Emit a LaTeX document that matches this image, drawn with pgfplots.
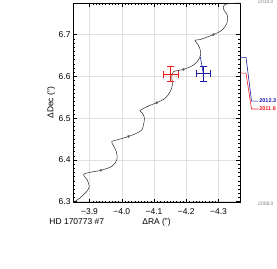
\documentclass[border=0pt]{standalone}
\usepackage{pgfplots}
\pgfplotsset{compat=1.18}
\usepackage{fontspec}
\setmainfont{Liberation Sans}
\definecolor{myblue}{rgb}{0.1,0.1,0.65}
\definecolor{myred}{rgb}{0.95,0.1,0.1}
\begin{document}
\begin{tikzpicture}
\begin{axis}[
  scale only axis, width=167bp, height=199.7bp,
  x dir=reverse,
  xmin=-4.3666, xmax=-3.8486, ymin=6.2976, ymax=6.7757,
  xtick={-3.9,-4.0,-4.1,-4.2,-4.3},
  xticklabels={−3.9,−4.0,−4.1,−4.2,−4.3},
  ytick={6.3,6.4,6.5,6.6,6.7},
  yticklabels={6.3,6.4,6.5,6.6,6.7},
  minor tick num=9,
  tick align=inside,
  major tick length=4bp, minor tick length=2bp,
  tick style={black, line width=0.4pt},
  grid=major, major grid style={gray!25, line width=0.5pt},
  axis line style={black, line width=0.5pt},
  ticklabel style={font=\fontsize{8.5}{10}\selectfont},
  xticklabel style={anchor=north, inner sep=0pt, yshift=-6bp},
  yticklabel style={anchor=east, inner sep=0pt, xshift=-2.3bp},
  xlabel={ΔRA (")}, ylabel={ΔDec (")},
  label style={font=\fontsize{8.5}{10}\selectfont},
  xlabel style={at={(axis description cs:0.5,-0.1077)}, anchor=base},
  ylabel style={at={(axis description cs:-0.1168,0.5)}, anchor=base},
  clip=false,
]
\addplot[black!85, line width=0.5pt, smooth, tension=0.5, mark=none] coordinates {
(-3.8486,6.2976) (-3.8712,6.3095) (-3.8920,6.3252) (-3.8990,6.3371) (-3.8920,6.3531) (-3.8814,6.3650) (-3.9022,6.3705) (-3.9353,6.3752) (-3.9694,6.3848) (-3.9848,6.4007) (-3.9827,6.4205) (-3.9724,6.4364) (-3.9694,6.4443) (-3.9950,6.4500) (-4.0207,6.4562) (-4.0468,6.4643) (-4.0622,6.4721) (-4.0672,6.4840) (-4.0703,6.5000) (-4.0641,6.5119) (-4.0570,6.5181) (-4.0827,6.5293) (-4.1087,6.5371) (-4.1344,6.5476) (-4.1499,6.5633) (-4.1570,6.5793) (-4.1551,6.5960) (-4.1600,6.6110) (-4.1910,6.6167) (-4.2220,6.6269) (-4.2406,6.6429) (-4.2449,6.6586) (-4.2375,6.6745) (-4.2272,6.6864) (-4.2427,6.6881) (-4.2839,6.7000) (-4.3099,6.7102) (-4.3254,6.7262) (-4.3272,6.7460) (-4.3149,6.7619) (-4.3201,6.7721) (-4.3511,6.7752) (-4.3666,6.7757)
};
\addplot[only marks, mark=*, mark size=1.2bp, gray!80!black, mark options={fill=gray!80!black}] coordinates {
(-3.9353,6.3752) (-4.0207,6.4562) (-4.1087,6.5371) (-4.1910,6.6167) (-4.2839,6.7000)
};
\addplot[myblue, line width=0.6pt, mark=none] coordinates {(-4.2436,6.6467) (-4.253,6.606)};
% red measurement (2011.8)
\addplot[myred, line width=0.9pt, mark=|, mark size=3.5bp, mark options={solid, line width=0.9pt}] coordinates {(-4.1297,6.605) (-4.1743,6.605)};
\addplot[myred, line width=0.9pt, mark=-, mark size=3.5bp, mark options={solid, line width=0.9pt}] coordinates {(-4.152,6.5871) (-4.152,6.6229)};
% blue measurement (2012.3)
\addplot[myblue, line width=0.9pt, mark=|, mark size=3.5bp, mark options={solid, line width=0.9pt}] coordinates {(-4.232,6.606) (-4.276,6.606)};
\addplot[myblue, line width=0.9pt, mark=-, mark size=3.5bp, mark options={solid, line width=0.9pt}] coordinates {(-4.254,6.5885) (-4.254,6.6235)};
\draw[myblue, line width=0.6pt] (axis description cs:1,0.728) -- (axis description cs:1.036,0.728) -- (axis description cs:1.069,0.509) -- (axis description cs:1.11,0.509);
\draw[myred, line width=0.6pt] (axis description cs:1,0.649) -- (axis description cs:1.036,0.649) -- (axis description cs:1.069,0.469) -- (axis description cs:1.11,0.469);
\node[anchor=west, inner sep=0.8bp, text=myblue, font=\fontsize{5.5}{6}\selectfont\bfseries] at (axis description cs:1.11,0.509) {2012.3};
\node[anchor=west, inner sep=0.8bp, text=myred, font=\fontsize{5.5}{6}\selectfont\bfseries] at (axis description cs:1.11,0.469) {2011.8};
\node[anchor=west, inner sep=0pt, text=gray, font=\fontsize{5}{6}\selectfont] at (axis description cs:1.108,1.006) {2014.0};
\node[anchor=west, inner sep=0pt, text=gray, font=\fontsize{5}{6}\selectfont] at (axis description cs:1.108,-0.0065) {2008.0};
\node[anchor=base west, inner sep=0pt, font=\fontsize{8.5}{10}\selectfont] at (axis description cs:-0.142,-0.1077) {HD 170773 \#7};
\end{axis}
\pgfresetboundingbox
\useasboundingbox (-73bp,-66.3bp) rectangle (204bp,202.7bp);
\end{tikzpicture}
\end{document}
